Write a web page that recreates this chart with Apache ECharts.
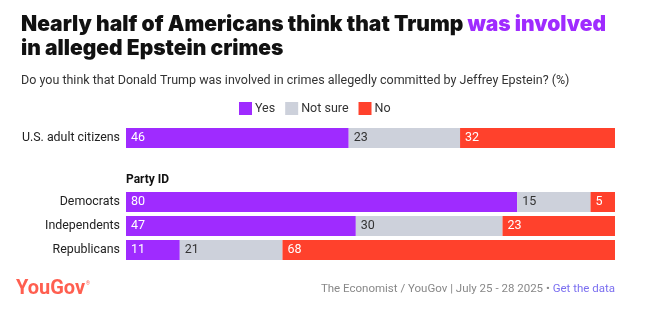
<!DOCTYPE html>
<html><head><meta charset="utf-8">
<script src="https://cdn.jsdelivr.net/npm/echarts@6/dist/echarts.min.js"></script>
<style>html,body{margin:0;padding:0;background:#fff}#c{width:666px;height:324px}</style>
</head><body><div id="c"></div>
<script>
const seriesNames = ["Yes", "Not sure", "No"];
const totalCategories = ["U.S. adult citizens"];
const totalYes = [46];
const totalNotSure = [23];
const totalNo = [32];
const partyCategories = ["Democrats", "Independents", "Republicans"];
const partyYes = [80, 47, 11];
const partyNotSure = [15, 30, 21];
const partyNo = [5, 23, 68];

const colors = ["#9f2bff", "#cdd1db", "#ff412c"];
const labelColors = ["#ffffff", "#333333", "#ffffff"];
const FONT = "Roboto";

function norm(groups) {
  const n = groups[0].length;
  const sums = [];
  for (let i = 0; i < n; i++) sums.push(groups.reduce((s, g) => s + g[i], 0));
  return groups.map(g => g.map((v, i) => ({ value: v / sums[i] * 100, raw: v })));
}
const totalData = norm([totalYes, totalNotSure, totalNo]);
const partyData = norm([partyYes, partyNotSure, partyNo]);

function makeSeries(dataSets, axisIdx) {
  return dataSets.map((d, k) => ({
    name: seriesNames[k],
    type: "bar",
    stack: "s" + axisIdx,
    xAxisIndex: axisIdx,
    yAxisIndex: axisIdx,
    barWidth: 20,
    itemStyle: { color: colors[k] },
    label: {
      show: true, position: "insideLeft", distance: 5,
      color: labelColors[k], fontFamily: FONT, fontSize: 12.5,
      formatter: p => p.data.raw
    },
    emphasis: { disabled: true },
    data: d
  }));
}

const chart = echarts.init(document.getElementById("c"), null, { renderer: "canvas" });
const yAxisCommon = {
  type: "category", inverse: true,
  axisLine: { show: false }, axisTick: { show: false },
  axisLabel: { color: "#222", fontFamily: FONT, fontSize: 12.4, margin: 6 }
};
const xAxisCommon = { type: "value", min: 0, max: 100, show: false };
chart.setOption({
  animation: false,
  title: {
    left: 16, top: 8,
    text: "{a|Nearly half of Americans think that Trump }{b|was involved}\n{a|in alleged Epstein crimes}",
    textStyle: {
      rich: {
        a: { fontFamily: "Inter", fontWeight: 900, fontSize: 21, color: "#111", lineHeight: 24 },
        b: { fontFamily: "Inter", fontWeight: 900, fontSize: 21, color: "#9f2bff", lineHeight: 24 }
      }
    },
    subtext: "Do you think that Donald Trump was involved in crimes allegedly committed by Jeffrey Epstein? (%)",
    subtextStyle: { fontFamily: FONT, fontSize: 12.5, color: "#333" },
    itemGap: 16
  },
  legend: {
    left: 239, top: 102, padding: 0,
    data: seriesNames,
    icon: "rect", itemWidth: 13, itemHeight: 13, itemGap: 10,
    textStyle: { fontFamily: FONT, fontSize: 12.5, color: "#333", padding: [0, 0, 0, -2] }
  },
  grid: [
    { left: 126, right: 51, top: 126, height: 24 },
    { left: 126, right: 51, top: 190, height: 72 }
  ],
  xAxis: [Object.assign({ gridIndex: 0 }, xAxisCommon), Object.assign({ gridIndex: 1 }, xAxisCommon)],
  yAxis: [
    Object.assign({ gridIndex: 0, data: totalCategories }, yAxisCommon),
    Object.assign({ gridIndex: 1, data: partyCategories }, yAxisCommon)
  ],
  series: makeSeries(totalData, 0).concat(makeSeries(partyData, 1)),
  graphic: [
    { type: "text", left: 126, top: 174, style: { text: "Party ID", font: "bold 12px Roboto", fill: "#111" } },
    { type: "text", left: 16, top: 279, style: { text: "YouGov", font: "bold 20px Roboto", fill: "#ff5f50" } },
    { type: "text", left: 86, top: 281, style: { text: "®", font: "5px Roboto", fill: "#ff5f50" } },
    { type: "text", right: 51, top: 283, style: {
      text: "{g|The Economist / YouGov | July 25 - 28 2025 • }{l|Get the data}",
      rich: {
        g: { fontFamily: FONT, fontSize: 11.5, fill: "#888" },
        l: { fontFamily: FONT, fontSize: 11.5, fill: "#7b6ff0" }
      }
    } }
  ]
});
</script></body></html>
